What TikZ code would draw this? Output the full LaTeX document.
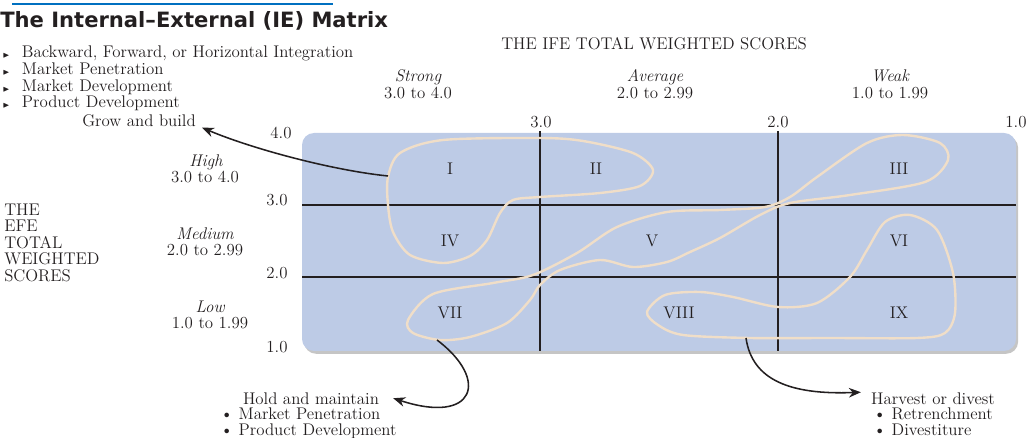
\documentclass[tikz,border=0pt]{standalone}
\usepackage{fontspec}
\usepackage{amssymb}
\newfontfamily\headfont{DejaVu Sans}
\usetikzlibrary{arrows.meta, shadows}
\definecolor{iebox}{RGB}{189,203,230}
\definecolor{loopsand}{RGB}{240,222,200}
\definecolor{inkdark}{RGB}{35,31,32}
\definecolor{ruleblue}{RGB}{0,112,192}
\newcommand{\tribul}{{\tiny$\blacktriangleright$}\hspace{0.3cm}}

\begin{document}
\begin{tikzpicture}[x=0.025cm, y=-0.025cm,
  every node/.style={text=inkdark, font=\fontsize{12}{12}\selectfont},
  txt/.style={anchor=base, inner sep=0pt},
  strat/.style={anchor=base west, inner sep=0pt},
  lvl/.style={txt, font=\fontsize{12}{12}\selectfont\itshape},
  cellnum/.style={txt},
  gridline/.style={line width=2pt, inkdark},
  loopline/.style={draw=loopsand, line width=1.7pt},
  bendarrow/.style={-{Stealth[length=3mm, width=2.4mm]}, line width=1.1pt, inkdark}
]
\useasboundingbox (0,0) rectangle (1031,438);

% heading
\draw[ruleblue, line width=1.5pt] (12,4) -- (333,4);
\node[strat, font=\headfont\bfseries\fontsize{15}{15}\selectfont] (title) at (0,28) {The Internal–External (IE) Matrix};

% grow and build strategies
\node[strat] (s1) at (2,58)  {\tribul Backward, Forward, or Horizontal Integration};
\node[strat] (s2) at (2,75)  {\tribul Market Penetration};
\node[strat] (s3) at (2,92)  {\tribul Market Development};
\node[strat] (s4) at (2,108) {\tribul Product Development};
\node[txt] (grow) at (139,127) {Grow and build};

% IFE axis
\node[txt] (ifetitle) at (654,50) {THE IFE TOTAL WEIGHTED SCORES};
\node[lvl] (strong)     at (418,82) {Strong};
\node[txt] (strongrng)  at (418,99) {3.0 to 4.0};
\node[lvl] (average)    at (655,82) {Average};
\node[txt] (averagerng) at (655,99) {2.0 to 2.99};
\node[lvl] (weak)       at (890,82) {Weak};
\node[txt] (weakrng)    at (890,99) {1.0 to 1.99};
\node[txt] (ifethree) at (541,128)  {3.0};
\node[txt] (ifetwo)   at (778,128)  {2.0};
\node[txt] (ifeone)   at (1016,128) {1.0};

% EFE axis
\node[anchor=north west, inner sep=0pt, align=left, font=\fontsize{12}{11.7}\selectfont] (efetitle) at (4,203.5)
  {THE\\EFE\\TOTAL\\WEIGHTED\\SCORES};
\node[lvl] (high)      at (206,167) {High};
\node[txt] (highrng)   at (205,183) {3.0 to 4.0};
\node[lvl] (medium)    at (205,240) {Medium};
\node[txt] (mediumrng) at (205,256) {2.0 to 2.99};
\node[lvl] (low)       at (210,313) {Low};
\node[txt] (lowrng)    at (210,329) {1.0 to 1.99};
\node[txt] (efefour)  at (281,139) {4.0};
\node[txt] (efethree) at (277,206) {3.0};
\node[txt] (efetwo)   at (277,279) {2.0};
\node[txt] (efeone)   at (277,353) {1.0};

% the matrix
\fill[iebox, rounded corners=0.3cm, drop shadow={shadow xshift=1.5pt, shadow yshift=-2pt, fill=black!45, opacity=0.5}]
  (302,133) rectangle (1016,351);
\coordinate (colA) at (540,131);
\coordinate (colAb) at (540,351);
\coordinate (colB) at (778,131);
\coordinate (colBb) at (778,351);
\coordinate (rowA) at (302,205);
\coordinate (rowAe) at (1016,205);
\coordinate (rowB) at (302,277);
\coordinate (rowBe) at (1016,277);
\draw[gridline] (colA) -- (colAb);
\draw[gridline] (colB) -- (colBb);
\draw[gridline] (rowA) -- (rowAe);
\draw[gridline] (rowB) -- (rowBe);

\node[cellnum] (c1) at (450,175) {I};
\node[cellnum] (c2) at (596,175) {II};
\node[cellnum] (c3) at (899,175) {III};
\node[cellnum] (c4) at (450,247) {IV};
\node[cellnum] (c5) at (652,247) {V};
\node[cellnum] (c6) at (899,247) {VI};
\node[cellnum] (c7) at (450,319) {VII};
\node[cellnum] (c8) at (679,319) {VIII};
\node[cellnum] (c9) at (899,319) {IX};

% strategy loops
\draw[loopline] plot[smooth cycle] coordinates {(388,177) (400,153) (443,140) (540,138) (583,141) (633,153)
  (653,170) (640,186) (600,193) (540,197) (513,200) (500,213) (487,240) (470,256) (443,263)
  (410,255) (393,232) (388,205)};
\draw[loopline] plot[smooth cycle] coordinates {(408,320) (433,294) (493,283) (533,275) (577,253) (617,227)
  (667,212) (720,210) (765,207) (790,197) (817,177) (867,143) (903,135) (940,143) (948,160)
  (925,182) (850,195) (790,203) (760,215) (720,238) (690,252) (667,262) (633,267) (600,260)
  (560,270) (540,285) (530,300) (507,323) (470,337) (440,340) (413,333)};
\draw[loopline] plot[smooth cycle] coordinates {(647,312) (665,295) (700,292) (733,297) (778,307) (817,303)
  (850,277) (867,250) (885,222) (910,215) (937,230) (953,273) (955,313) (945,333) (917,338)
  (830,338) (750,338) (683,335) (658,325)};

\coordinate (growfrom) at (388,176);
\coordinate (holdfrom) at (437,340);
\coordinate (harvestfrom) at (746,338);

% hold and harvest lists
\node[txt] (hold) at (311,404) {Hold and maintain};
\node[strat] (hold1) at (220,419) {\textbullet\ Market Penetration};
\node[strat] (hold2) at (220,435) {\textbullet\ Product Development};
\node[txt] (harvest) at (933,404) {Harvest or divest};
\node[strat] (harv1) at (873,419) {\textbullet\ Retrenchment};
\node[strat] (harv2) at (873,435) {\textbullet\ Divestiture};

% arrows
\draw[bendarrow] (growfrom) .. controls (330,170) and (250,148) .. ([xshift=0.15cm]grow.south east);
\draw[bendarrow] (holdfrom) .. controls (490,380) and (475,425) .. ([xshift=0.35cm]hold.east);
\draw[bendarrow] (harvestfrom) .. controls (752,380) and (790,395) .. ([xshift=-0.25cm, yshift=0.15cm]harvest.west);
\end{tikzpicture}
\end{document}
